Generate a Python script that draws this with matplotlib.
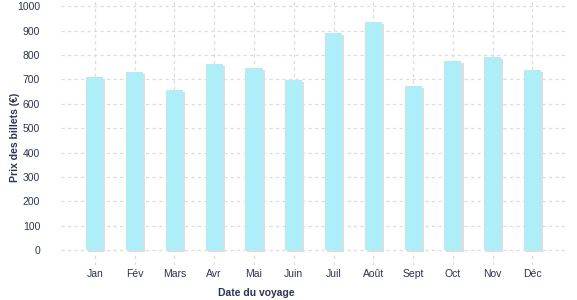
import matplotlib
matplotlib.use("Agg")
import matplotlib.pyplot as plt
import matplotlib.patheffects as pe

months = ["Jan", "Fév", "Mars", "Avr", "Mai", "Juin", "Juil", "Août", "Sept", "Oct", "Nov", "Déc"]
prices = [708, 729, 656, 762, 746, 697, 889, 934, 672, 775, 791, 738]
yticks = [0, 100, 200, 300, 400, 500, 600, 700, 800, 900, 1000]

plt.rcParams['font.family'] = ['Liberation Sans', 'DejaVu Sans']
txt = "#2b3553"

fig = plt.figure(figsize=(5.77, 3.0), dpi=100)
ax = fig.add_axes([61/577, 1 - 265/300, (566.7 - 61)/577, 265/300])

x = list(range(len(months)))
ax.bar(x, prices, width=0.43, color="#adeef8", zorder=3,
       path_effects=[pe.SimplePatchShadow(offset=(1.5, -1.5), shadow_rgbFace="#dddddd", alpha=1.0), pe.Normal()])

ax.set_xlim(-0.85, 11.86)
ax.set_ylim(-61, 1025)
ax.set_yticks(yticks)
ax.set_xticks(x)
ax.set_xticklabels(months)
ax.grid(True, color="#dcdcdc", linestyle=(0, (2.6, 2.6)), linewidth=0.9, zorder=0)
for s in ax.spines.values():
    s.set_visible(False)
ax.tick_params(axis='both', length=0, labelsize=7.5, colors=txt)
ax.tick_params(axis='y', pad=15)
ax.tick_params(axis='x', pad=3)

fig.text(256/577, 1 - 293/300, "Date du voyage", ha="center", va="center",
         fontsize=7.5, fontweight="bold", color=txt)
fig.text(15/577, 1 - 137/300, "Prix des billets (€)", ha="center", va="center",
         rotation=90, fontsize=7.5, fontweight="bold", color=txt)

fig.savefig("out.png", dpi=100)
